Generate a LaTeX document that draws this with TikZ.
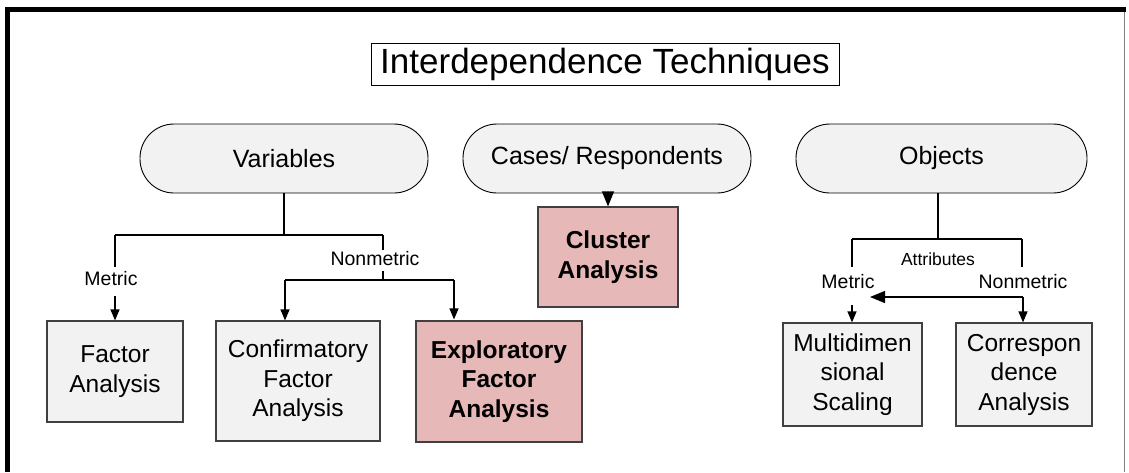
\documentclass[tikz,border=0pt]{standalone}
\usepackage{fontspec}
\setmainfont{Liberation Sans}
\usetikzlibrary{arrows.meta}
\definecolor{pillfill}{HTML}{F2F2F2}
\definecolor{boxfill}{HTML}{F2F2F2}
\definecolor{pinkfill}{HTML}{E6B9B8}
\definecolor{edge}{HTML}{404040}
\definecolor{rim}{HTML}{808080}

\begin{document}
\begin{tikzpicture}[x=1pt,y=-1pt,
  pill/.style={draw=black, line width=0.9pt, fill=pillfill, rounded corners=34pt,
    minimum height=69pt, inner sep=0pt, font=\fontsize{25}{30}\selectfont},
  method/.style={draw=edge, line width=1.2pt, fill=boxfill, inner sep=0pt,
    align=center, font=\fontsize{24.5}{29.5}\selectfont},
  keymethod/.style={method, fill=pinkfill, font=\fontsize{24.5}{29.5}\selectfont\bfseries},
  lbl/.style={inner sep=0pt, font=\fontsize{19.5}{22}\selectfont},
  link/.style={line width=1.2pt},
  arr/.style={link, -{Triangle[length=11pt,width=9pt]}},
  bigarr/.style={link, -{Triangle[length=15pt,width=12pt]}},
]
\useasboundingbox (0,0) rectangle (1129,472);

% outer frame
\draw[line width=5pt] (7.5,472) -- (7.5,9.5) -- (1126,9.5);
\draw[rim, line width=1pt] (1124,12) -- (1124,472);

% title
\node[draw=black, line width=0.9pt, minimum width=468pt, minimum height=42pt, inner sep=0pt,
  font=\fontsize{35}{40}\selectfont] (title) at (605,64) {Interdependence Techniques};

% groups
\node[pill, minimum width=288pt] (var) at (284,158.5) {Variables};
\node[pill, minimum width=288pt] (cases) at (607,158.5) {Cases/ Respondents};
\node[pill, minimum width=291pt] (obj) at (941.5,158.5) {Objects};

% methods
\node[method, minimum width=136pt, minimum height=101pt] (fa) at (115,371.5) {Factor\\Analysis};
\node[method, minimum width=164pt, minimum height=120pt] (cfa) at (298,381) {Confirmatory\\Factor\\Analysis};
\node[keymethod, minimum width=166pt, minimum height=121pt] (efa) at (499,381.5) {Exploratory\\Factor\\Analysis};
\node[keymethod, minimum width=140pt, minimum height=100pt] (ca) at (608,257) {Cluster\\Analysis};
\node[method, minimum width=139pt, minimum height=103pt] (mds) at (852.5,374.5) {Multidimen\\sional\\Scaling};
\node[method, minimum width=136pt, minimum height=103pt] (cor) at (1024,374.5) {Correspon\\dence\\Analysis};

% labels
\node[lbl] (vmet) at (111,279) {Metric};
\node[lbl] (vnon) at (375,259) {Nonmetric};
\node[lbl, font=\fontsize{17.5}{20}\selectfont] (attr) at (938,259) {Attributes};
\node[lbl] (omet) at (848,282) {Metric};
\node[lbl] (onon) at (1023,282) {Nonmetric};

% variables branch
\coordinate (vj) at (284,235);
\coordinate (vl) at (115,235);
\coordinate (vr) at (383,235);
\coordinate (nj) at (383,280);
\coordinate (nl) at (285,280);
\coordinate (nr) at (454,280);
\draw[link] (var.south) -- (vj);
\draw[link] (vl) -- (vr);
\draw[link] (vl) -- (115,267);
\draw[arr] (115,296) -- (fa.north -| vl);
\draw[link] (vr) -- (383,250);
\draw[link] (383,271) -- (nj);
\draw[link] (nl) -- (nr);
\draw[arr] (nl) -- (cfa.north -| nl);
\draw[arr] (nr) -- ([yshift=1pt]efa.north -| nr);

% cases branch
\draw[bigarr] (cases.south -| ca.north) -- (ca.north);

% objects branch
\coordinate (oj) at (938,239);
\coordinate (ol) at (852,239);
\coordinate (or) at (1022,239);
\coordinate (ah) at (1023,297);
\coordinate (at) at (870,297);
\draw[link] (obj.south -| oj) -- (oj);
\draw[link] (ol) -- (or);
\draw[link] (ol) -- (852,267);
\draw[link] (or) -- (1022,267);
\draw[bigarr] (ah) -- (at);
\draw[arr] (ah) -- (cor.north -| ah);
\draw[arr] (852,305) -- (mds.north -| ol);
\end{tikzpicture}
\end{document}
